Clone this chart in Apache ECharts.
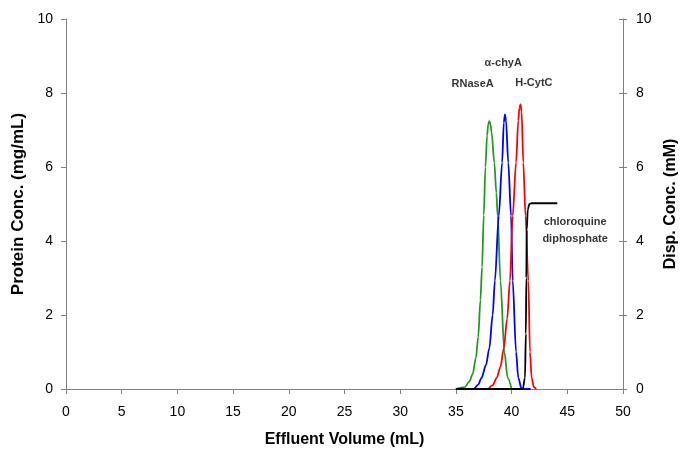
<!DOCTYPE html>
<html><head><meta charset="utf-8">
<script src="https://cdn.jsdelivr.net/npm/echarts@6/dist/echarts.min.js"></script>
<style>html,body{margin:0;padding:0;background:#fff}#c{width:680px;height:449px}</style>
</head><body><div id="c"></div>
<script>
// Effluent volume (mL) and concentrations
const rnaseX = [35, 35.8, 36.2, 36.5, 36.8, 37.0, 37.2, 37.35, 37.5, 37.65, 37.8, 37.9, 38.0, 38.1, 38.2, 38.45, 38.63, 38.75, 39.0, 39.35, 39.65, 40.0];
const rnaseY = [0, 0.05, 0.2, 0.4, 0.85, 1.4, 2.4, 3.3, 4.7, 6.0, 6.85, 7.15, 7.24, 7.15, 6.95, 6.12, 5.3, 4.68, 2.92, 1.0, 0.3, 0];
const chyX = [35, 36.6, 37.0, 37.3, 37.7, 38.0, 38.3, 38.5, 38.85, 39.15, 39.3, 39.4, 39.5, 39.7, 39.95, 40.1, 40.4, 40.6, 40.9, 41.7];
const chyY = [0, 0, 0.12, 0.3, 0.65, 1.1, 2.0, 2.92, 4.68, 6.12, 7.2, 7.42, 7.25, 6.12, 4.68, 2.92, 1.0, 0.3, 0, 0];
const cytX = [37.9, 38.3, 38.66, 39.0, 39.3, 39.6, 39.85, 40.1, 40.4, 40.6, 40.7, 40.8, 40.9, 41.05, 41.25, 41.5, 41.65, 41.8, 42.0, 42.2];
const cytY = [0, 0.1, 0.3, 0.6, 1.1, 1.9, 2.92, 4.68, 6.12, 7.25, 7.6, 7.69, 7.5, 6.12, 4.68, 2.92, 1.0, 0.3, 0.05, 0];
const dispX = [35, 41.0, 41.2, 41.28, 41.32, 41.36, 41.45, 41.6, 41.8, 44.1];
const dispY = [0, 0, 0.3, 1.5, 3.0, 4.3, 4.85, 5.0, 5.02, 5.02];
const xTicks = {min: 0, max: 50, interval: 5};
const yTicks = {min: 0, max: 10, interval: 2};
const annotations = [
  {text: 'RNaseA', x: 36.5, y: 8.24},
  {text: 'α-chyA', x: 39.25, y: 8.81},
  {text: 'H-CytC', x: 42.0, y: 8.27},
  {text: 'chloroquine', x: 45.7, y: 4.51},
  {text: 'diphosphate', x: 45.7, y: 4.05}
];

const zip = (xs, ys) => xs.map((x, i) => [x, ys[i]]);
const font = 'Liberation Sans, Arial, sans-serif';
const axisGrey = '#808080';
const chart = echarts.init(document.getElementById('c'));
const lineSeries = (name, xs, ys, color, yIdx) => ({
  name, type: 'line', data: zip(xs, ys), xAxisIndex: 0, yAxisIndex: yIdx,
  showSymbol: false, smooth: 0.3, smoothMonotone: 'x',
  lineStyle: {color, width: 1.8}, itemStyle: {color}, z: 3
});
const nameStyle = {fontFamily: font, fontWeight: 'bold', fontSize: 16, color: '#000'};
const tickLabel = {fontFamily: font, fontSize: 14, color: '#000'};
chart.setOption({
  animation: false,
  grid: {left: 66, right: 57, top: 19, bottom: 60, outerBoundsMode: 'none', containLabel: false},
  xAxis: [{
    type: 'value', min: xTicks.min, max: xTicks.max, interval: xTicks.interval,
    name: 'Effluent Volume (mL)', nameLocation: 'middle', nameGap: 43, nameTextStyle: nameStyle,
    axisLine: {onZero: false, lineStyle: {color: axisGrey, width: 1}},
    axisTick: {length: 5, lineStyle: {color: axisGrey}},
    axisLabel: Object.assign({margin: 16}, tickLabel),
    splitLine: {show: false}
  }],
  yAxis: [{
    type: 'value', min: yTicks.min, max: yTicks.max, interval: yTicks.interval, position: 'left',
    name: 'Protein Conc. (mg/mL)', nameLocation: 'middle', nameGap: 38,
    nameTextStyle: Object.assign({}, nameStyle, {fontSize: 17}),
    axisLine: {show: true, onZero: false, lineStyle: {color: axisGrey}},
    axisTick: {show: true, length: 5, lineStyle: {color: axisGrey}},
    axisLabel: Object.assign({margin: 13}, tickLabel),
    splitLine: {show: false}
  }, {
    type: 'value', min: yTicks.min, max: yTicks.max, interval: yTicks.interval, position: 'right',
    name: 'Disp. Conc. (mM)', nameLocation: 'middle', nameGap: 37, nameRotate: 90, nameTextStyle: nameStyle,
    axisLine: {show: true, onZero: false, lineStyle: {color: axisGrey}},
    axisTick: {show: true, length: 4, lineStyle: {color: axisGrey}},
    axisLabel: Object.assign({margin: 13}, tickLabel),
    splitLine: {show: false}
  }, {
    type: 'value', min: yTicks.min, max: yTicks.max, interval: yTicks.interval, position: 'right',
    axisLine: {show: false, onZero: false}, axisTick: {show: true, inside: true, length: 4, lineStyle: {color: axisGrey}},
    axisLabel: {show: false}, splitLine: {show: false}
  }],
  series: [
    lineSeries('RNaseA', rnaseX, rnaseY, '#239b23', 0),
    lineSeries('α-chyA', chyX, chyY, '#0000ff', 0),
    lineSeries('H-CytC', cytX, cytY, '#ff0000', 0),
    lineSeries('chloroquine diphosphate', dispX, dispY, '#000000', 1),
    {
      type: 'scatter', xAxisIndex: 0, yAxisIndex: 0, symbolSize: 0, silent: true,
      data: annotations.map(a => ({value: [a.x, a.y], label: {show: true, formatter: a.text}})),
      label: {position: 'inside', fontFamily: font, fontWeight: 'bold', fontSize: 11, color: '#000'}
    }
  ]
});
</script></body></html>
